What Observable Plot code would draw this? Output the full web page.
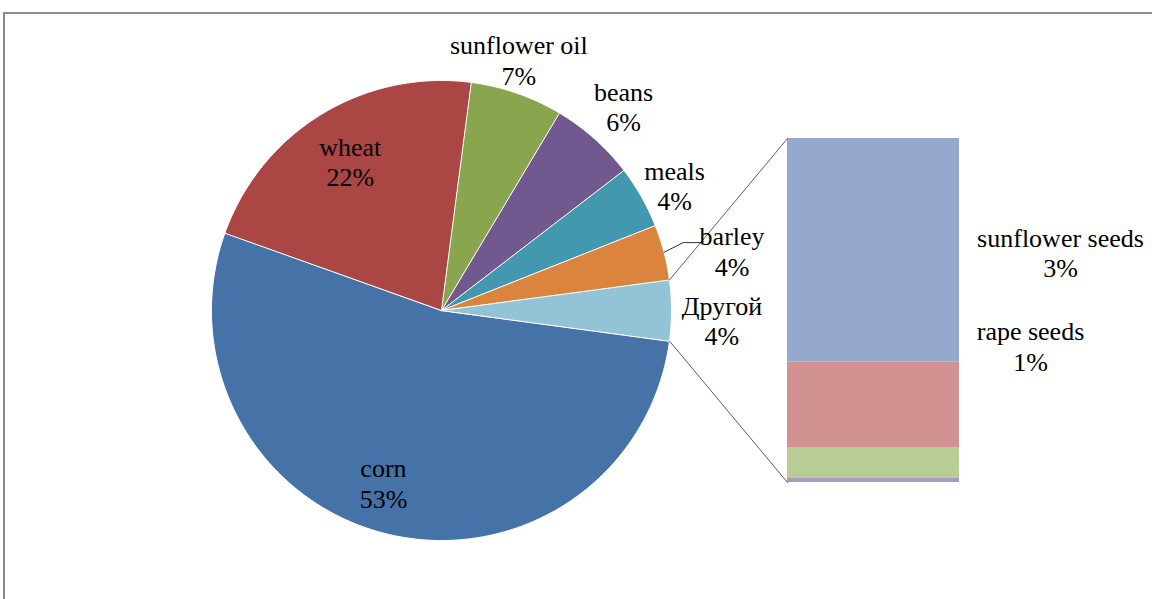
<!DOCTYPE html>
<html><head><meta charset="utf-8">
<script src="https://cdn.jsdelivr.net/npm/d3@7"></script>
<script src="https://cdn.jsdelivr.net/npm/@observablehq/plot@0.6"></script>
<style>
body{margin:0;background:#fff;}
#wrap{position:relative;width:1152px;height:599px;overflow:hidden;}
#frame{position:absolute;left:3px;top:12px;width:1300px;height:800px;border-top:2px solid #8c8c8c;border-left:2px solid #8c8c8c;}
#chart{position:absolute;left:0;top:0;}
#chart svg text, #chart svg tspan{font-family:"Liberation Serif","Times New Roman","DejaVu Serif",serif !important;}
</style></head><body>
<div id="wrap"><div id="frame"></div><div id="chart"></div></div>
<script>
// ---- data ----
const pieCategories = ["corn", "wheat", "sunflower oil", "beans", "meals", "barley"];
const pieValues = [53.3, 21.6, 6.5, 6.0, 4.4, 3.9];
const otherName = "Другой";
const barCategories = ["sunflower seeds", "rape seeds", "unlabelled 1", "unlabelled 2"];
const barValues = [2.75, 1.05, 0.38, 0.05];
const barLabelShown = [true, true, false, false];
const pieColors = ["#4572A7", "#AA4643", "#89A54E", "#71588F", "#4198AF", "#DB843D", "#93C4D5"];
const barColors = ["#95A9CF", "#D29292", "#B8CD96", "#A99BBF"];

// ---- layout ----
const W = 1152, H = 599;
const cx = 441, cy = 310, R = 230;
const bar = {x1: 787, x2: 959, top: 138, bottom: 482};
const labelLayout = {
  "corn": {r: 0.79, da: 5},
  "wheat": {r: 0.76, da: 0},
  "sunflower oil": {r: 1.14, da: -2},
  "beans": {r: 1.19, da: 0},
  "meals": {r: 1.15, da: 1.4},
  "barley": {r: 1.29, da: 3},
  "Другой": {r: 1.22, da: 2}
};
const barLabelLayout = [{dx: 101, dy: 2}, {dx: 71, dy: -59}];

const otherValue = d3.sum(barValues);
const names = pieCategories.concat([otherName]);
const values = pieValues.concat([otherValue]);
const total = d3.sum(values);
const otherAngle = otherValue / total * 2 * Math.PI;
const start = Math.PI / 2 + otherAngle / 2;
const arcs = d3.pie().sort(null).startAngle(start).endAngle(start + 2 * Math.PI)(values);
const pt = (a, r) => [cx + r * Math.sin(a), cy - r * Math.cos(a)];

const slicePts = [];
arcs.forEach((a, i) => {
  slicePts.push({name: names[i], color: pieColors[i], x: cx, y: cy});
  const n = Math.max(2, Math.ceil((a.endAngle - a.startAngle) / (Math.PI / 360)));
  for (let k = 0; k <= n; k++) {
    const ang = a.startAngle + (a.endAngle - a.startAngle) * k / n;
    const [x, y] = pt(ang, R);
    slicePts.push({name: names[i], color: pieColors[i], x, y});
  }
});

const pct = v => Math.round(v / total * 100) + "%";
const labels = arcs.map((a, i) => {
  const L = labelLayout[names[i]];
  const mid = (a.startAngle + a.endAngle) / 2 + L.da * Math.PI / 180;
  const [x, y] = pt(mid, R * L.r);
  return {x, y, text: names[i] + "\n" + pct(values[i])};
});

// stacked bar
const scaleBar = d3.scaleLinear().domain([0, otherValue]).range([bar.top, bar.bottom]);
let cum = 0;
const barRows = barValues.map((v, i) => {
  const r = {name: barCategories[i], color: barColors[i], y1: scaleBar(cum), y2: scaleBar(cum + v), x1: bar.x1, x2: bar.x2};
  cum += v;
  return r;
});
barRows.forEach((r, i) => {
  if (barLabelShown[i]) {
    const L = barLabelLayout[i];
    labels.push({x: bar.x2 + L.dx, y: (r.y1 + r.y2) / 2 + L.dy, text: barCategories[i] + "\n" + pct(barValues[i])});
  }
});

// connector lines from "other" slice to bar
const oa = arcs[arcs.length - 1];
const [ax, ay] = pt(oa.startAngle, R);
const [bx, by] = pt(oa.endAngle, R);
const connectors = [
  {g: 1, x: ax, y: ay}, {g: 1, x: bar.x1, y: bar.top},
  {g: 2, x: bx, y: by}, {g: 2, x: bar.x1, y: bar.bottom}
];
// barley leader line
const bi = names.indexOf("barley");
const bArc = arcs[bi];
const [lx0, ly0] = pt((bArc.startAngle + bArc.endAngle) / 2, R);
const bl = labels[bi];
const leader = [
  {x: lx0, y: ly0}, {x: bl.x - 49, y: bl.y - 8}, {x: bl.x - 30, y: bl.y - 8}
];

const serif = "Liberation Serif, Times New Roman, DejaVu Serif, serif";
const chart = Plot.plot({
  width: W, height: H,
  margin: 0,
  x: {domain: [0, W], range: [0, W], axis: null},
  y: {domain: [0, H], range: [0, H], axis: null},
  color: {type: "identity"},
  style: {background: "transparent", overflow: "visible", fontFamily: serif},
  marks: [
    Plot.line(slicePts, {x: "x", y: "y", z: "name", fill: "color", stroke: "white", strokeWidth: 1, curve: "linear-closed"}),
    Plot.rect(barRows, {x1: "x1", x2: "x2", y1: "y1", y2: "y2", fill: "color"}),
    Plot.line(connectors, {x: "x", y: "y", z: "g", stroke: "#5f5f5f", strokeWidth: 1}),
    Plot.line(leader, {x: "x", y: "y", stroke: "#333", strokeWidth: 1}),
    Plot.text(labels, {x: "x", y: "y", text: "text", fontFamily: serif, fontSize: 26, lineHeight: 1.17, fill: "#000"})
  ]
});
document.getElementById("chart").appendChild(chart);
</script>
</body></html>
